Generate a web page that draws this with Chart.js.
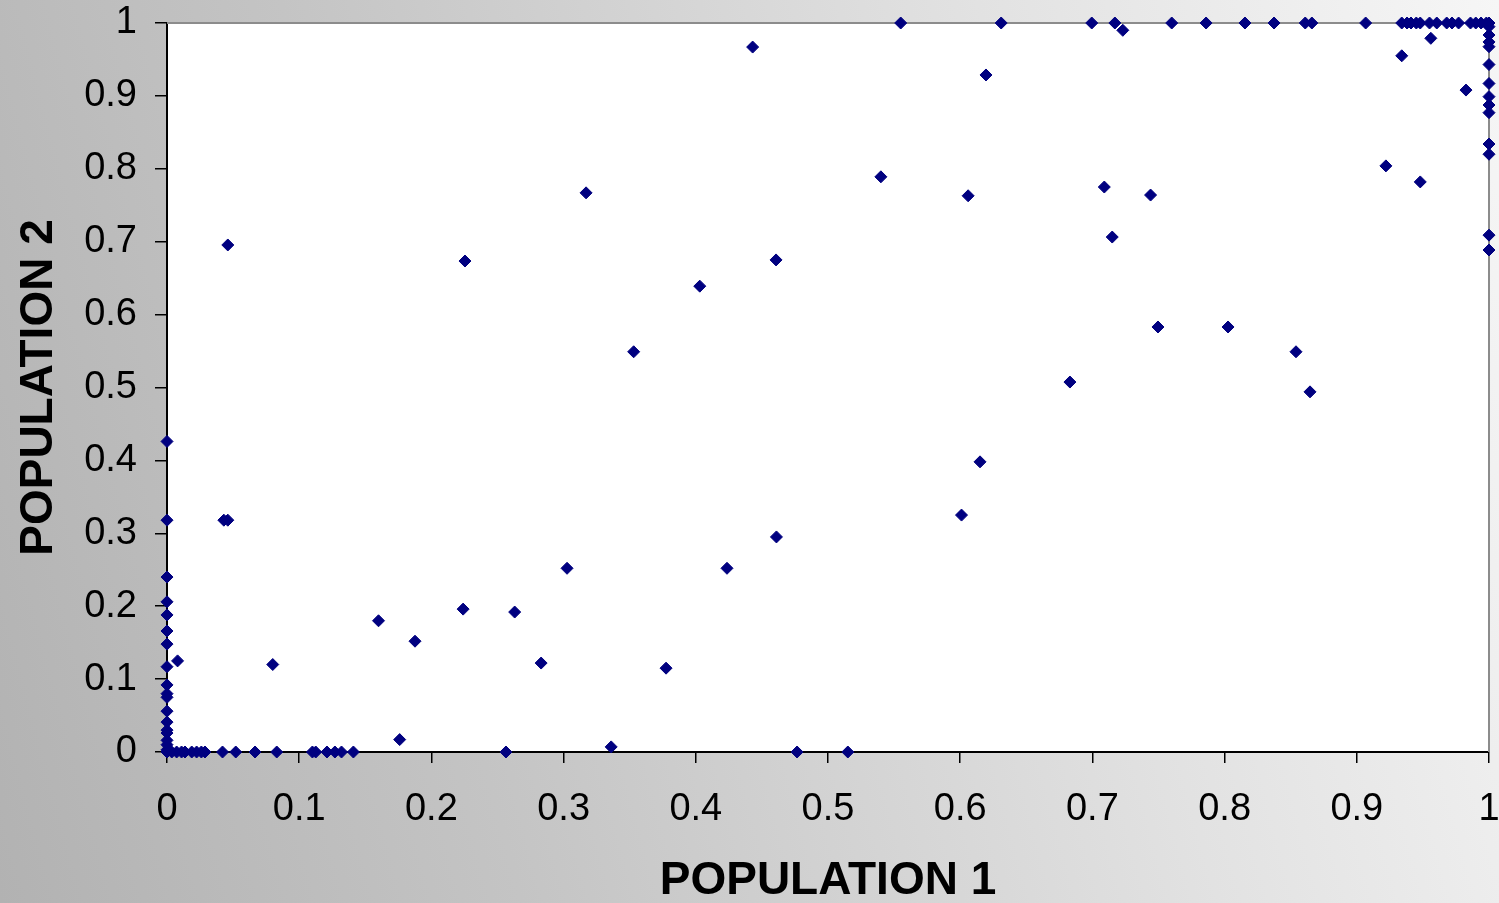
<!doctype html>
<html>
<head>
    <title>Population 1 vs Population 2</title>
    <script src="https://cdn.jsdelivr.net/npm/chart.js"></script>
    <style>
        html, body { margin: 0; padding: 0; }
        body {
            width: 1499px; height: 903px; overflow: hidden;
            background: linear-gradient(75deg, #b2b2b2 0%, #c4c4c4 30%, #e2e2e2 70%, #f6f6f6 100%);
        }
        #chart { display: block; }
    </style>
</head>
<body>
    <canvas id="chart" width="1499" height="903"></canvas>

    <script>
        // Values: population 1 (x) and population 2 (y)
        var pop1 = [
            0, 0, 0, 0, 0, 0, 0, 0, 0, 0, 0, 0, 0, 0, 0, 0, 0, 0, 0,
            0.043, 0.046, 0.008, 0.080,
            0.0036, 0.0073, 0.011, 0.0136, 0.0187, 0.0224, 0.026, 0.0287, 0.042, 0.052, 0.0666, 0.083,
            0.110, 0.1125, 0.121, 0.127, 0.132, 0.141, 0.2564, 0.4766, 0.515,
            0.176, 0.336,
            0.160, 0.1876, 0.224, 0.263, 0.283, 0.3026, 0.3775, 0.4236, 0.461, 0.353, 0.2254, 0.046,
            0.317, 0.403, 0.4607, 0.443, 0.540, 0.606, 0.6195, 0.601, 0.615, 0.683, 0.709, 0.715,
            0.744, 0.7496, 0.8026, 0.854, 0.8646, 0.922, 0.948, 0.934, 0.9826, 0.956, 0.723,
            0.555, 0.631, 0.6995, 0.717, 0.760, 0.786, 0.8154, 0.8374, 0.861, 0.866, 0.9067,
            0.934, 0.938, 0.941, 0.945, 0.948, 0.955, 0.9605, 0.968, 0.972, 0.977,
            0.986, 0.990, 0.994, 0.998, 1.0,
            1, 1, 1, 1, 1, 1, 1, 1, 1, 1, 1, 1, 1
        ];
        var pop2 = [
            0.426, 0.318, 0.240, 0.206, 0.188, 0.166, 0.148, 0.117, 0.092, 0.080, 0.075, 0.056, 0.041, 0.030, 0.026, 0.016, 0.010, 0.003, 0,
            0.318, 0.318, 0.125, 0.120,
            0, 0, 0, 0, 0, 0, 0, 0, 0, 0, 0, 0,
            0, 0, 0, 0, 0, 0, 0, 0, 0,
            0.017, 0.007,
            0.180, 0.152, 0.196, 0.192, 0.122, 0.252, 0.115, 0.252, 0.295, 0.549, 0.6735, 0.6955,
            0.767, 0.639, 0.675, 0.967, 0.789, 0.763, 0.9287, 0.325, 0.398, 0.5075, 0.775, 0.7064,
            0.764, 0.583, 0.583, 0.549, 0.494, 0.804, 0.782, 0.955, 0.908, 0.979, 0.990,
            1, 1, 1, 1, 1, 1, 1, 1, 1, 1, 1,
            1, 1, 1, 1, 1, 1, 1, 1, 1, 1,
            1, 1, 1, 1, 1,
            0.995, 0.9835, 0.974, 0.9675, 0.943, 0.917, 0.899, 0.8875, 0.877, 0.834, 0.820, 0.709, 0.6886
        ];
        var xTitle = 'POPULATION 1';
        var yTitle = 'POPULATION 2';

        var points = pop1.map(function(x, i) { return { x: x, y: pop2[i] }; });

        // white plot area, grey frame on top and right
        var plotFrame = {
            id: 'plotFrame',
            beforeDraw: function(chart) {
                var a = chart.chartArea, ctx = chart.ctx;
                ctx.save();
                ctx.fillStyle = '#ffffff';
                ctx.fillRect(a.left, a.top, a.right - a.left, a.bottom - a.top);
                ctx.restore();
            },
            beforeDatasetsDraw: function(chart) {
                var a = chart.chartArea, ctx = chart.ctx;
                ctx.save();
                ctx.strokeStyle = '#8c8c8c';
                ctx.lineWidth = 2;
                ctx.beginPath();
                ctx.moveTo(a.left, a.top);
                ctx.lineTo(a.right, a.top);
                ctx.lineTo(a.right, a.bottom);
                ctx.stroke();
                ctx.restore();
            }
        };

        function tickLabel(v) { return String(Math.round(v * 10) / 10); }

        var tickFont = { family: "'Liberation Sans', Arial, sans-serif", size: 38 };
        var titleFont = { family: "'Liberation Sans', Arial, sans-serif", size: 46, weight: 'bold' };

        const ctx = document.getElementById('chart').getContext('2d');
        var chart = new Chart(ctx, {
            type: 'scatter',
            data: {
                datasets: [{
                    label: 'Populations',
                    data: points,
                    backgroundColor: '#000080',
                    borderColor: '#000080',
                    borderWidth: 1,
                    pointStyle: 'rectRot',
                    pointRadius: 6,
                    pointHoverRadius: 6,
                    clip: false
                }]
            },
            options: {
                responsive: false,
                animation: false,
                layout: { padding: { top: 23, right: 10, left: 12, bottom: 0 } },
                plugins: {
                    legend: { display: false },
                    tooltip: { enabled: false }
                },
                scales: {
                    x: {
                        type: 'linear',
                        min: 0, max: 1,
                        afterFit: function(s) { s.height = 151; s.paddingLeft = 0; s.paddingRight = 0; },
                        ticks: { stepSize: 0.1, color: '#000', font: tickFont, padding: 24, maxRotation: 0, callback: tickLabel },
                        grid: { drawOnChartArea: false, drawTicks: true, tickLength: 11, color: '#000', lineWidth: 1.5 },
                        border: { display: true, color: '#000', width: 2 },
                        title: { display: true, text: xTitle, color: '#000', font: titleFont, padding: { top: 0, bottom: -6 } }
                    },
                    y: {
                        type: 'linear',
                        min: 0, max: 1,
                        afterFit: function(s) { s.width = 155; s.paddingTop = 0; s.paddingBottom = 0; },
                        ticks: { stepSize: 0.1, color: '#000', font: tickFont, padding: 18, callback: tickLabel },
                        grid: { drawOnChartArea: false, drawTicks: true, tickLength: 12, color: '#000', lineWidth: 1.5 },
                        border: { display: true, color: '#000', width: 2 },
                        title: { display: true, text: yTitle, color: '#000', font: titleFont, padding: { top: 0, bottom: 0 } }
                    }
                }
            },
            plugins: [plotFrame]
        });
    </script>
</body>
</html>
